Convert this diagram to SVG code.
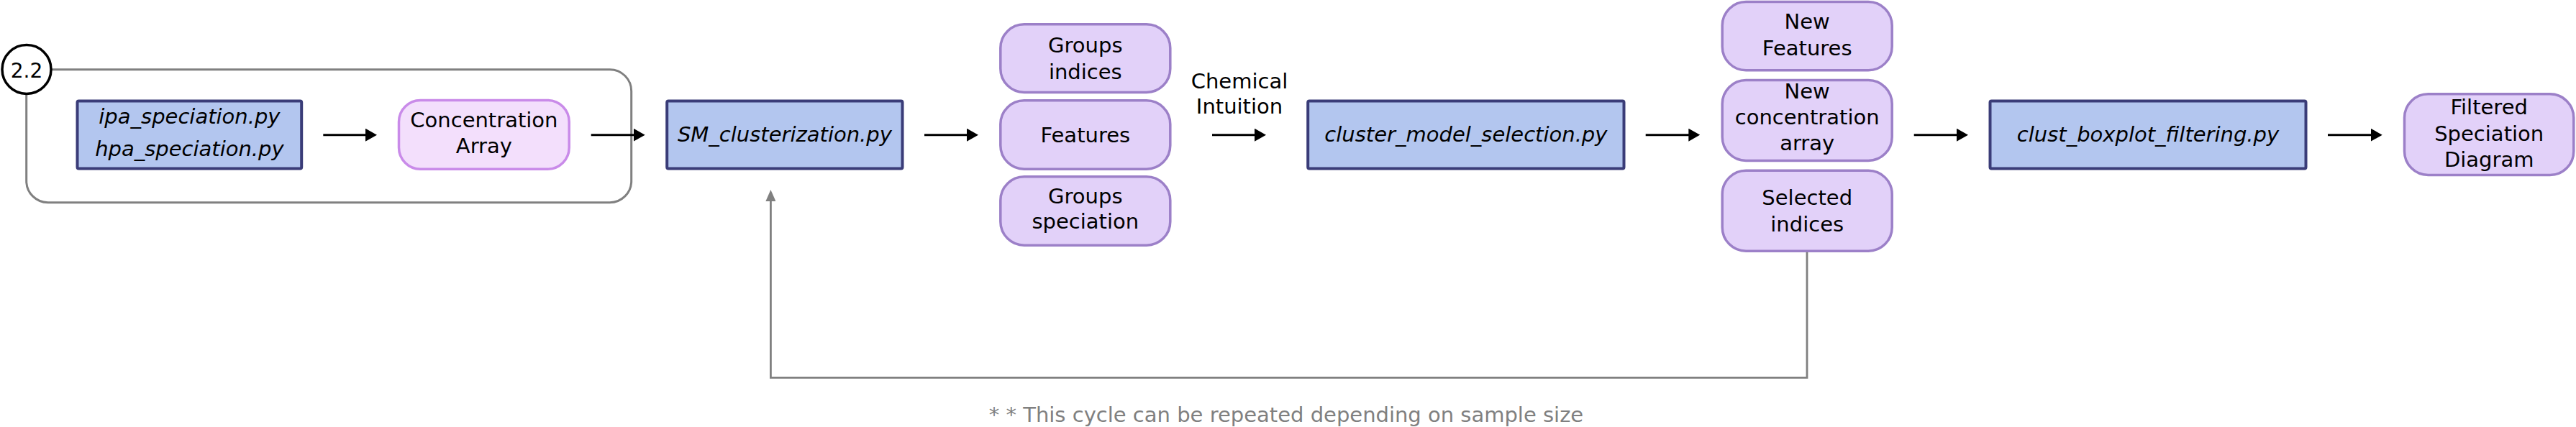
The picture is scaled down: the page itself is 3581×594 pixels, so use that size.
<svg xmlns="http://www.w3.org/2000/svg" width="3581" height="594" viewBox="0 0 3581 594">
<style>
text{font-family:"DejaVu Sans","Liberation Sans",sans-serif;font-size:29px;fill:#000;text-anchor:middle}
.it{font-style:italic}
.script{fill:#b3c6ef;stroke:#3a3c78;stroke-width:4}
.data{fill:#e2d1f9;stroke:#9c80c8;stroke-width:3.5}
.conc{fill:#f3dffc;stroke:#c98be9;stroke-width:3.5}
.flow{stroke:#000;stroke-width:3;fill:none}
.loop{stroke:#808080;stroke-width:2.8;fill:none}
.note{fill:#808080}
</style>
<defs>
<marker id="ah" markerUnits="userSpaceOnUse" markerWidth="16" markerHeight="18" refX="2" refY="9" orient="auto">
<path d="M0,0 L16,9 L0,18 z" fill="#000"/>
</marker>
<marker id="ahg" markerUnits="userSpaceOnUse" markerWidth="16" markerHeight="14" refX="2" refY="7" orient="auto">
<path d="M0,0 L16,7 L0,14 z" fill="#808080"/>
</marker>
</defs>

<g id="group-2-2">
<rect x="36.7" y="96.7" width="841" height="185" rx="30" fill="none" stroke="#808080" stroke-width="3"/>
<circle cx="37" cy="96.5" r="34" fill="#fff" stroke="#000" stroke-width="3.5"/>
<text x="37" y="107.5" style="font-size:28px">2.2</text>
</g>

<g id="node-speciation">
<rect class="script" x="107.5" y="140.5" width="311.7" height="94" rx="2"/>
<text class="it" x="263.4" y="172">ipa_speciation.py</text>
<text class="it" x="263.4" y="217">hpa_speciation.py</text>
</g>

<g id="node-concentration">
<rect class="conc" x="554.5" y="139.5" width="236.7" height="95.7" rx="30"/>
<text x="672.9" y="176.7">Concentration</text>
<text x="672.9" y="213">Array</text>
</g>

<g id="node-sm">
<rect class="script" x="927.2" y="140.5" width="327.3" height="94" rx="2"/>
<text class="it" x="1090.9" y="196.5">SM_clusterization.py</text>
</g>

<g id="node-groups-indices">
<rect class="data" x="1390.8" y="33.8" width="236" height="94.7" rx="33"/>
<text x="1508.8" y="73.3">Groups</text>
<text x="1508.8" y="110">indices</text>
</g>

<g id="node-features">
<rect class="data" x="1390.8" y="139.8" width="236" height="95.4" rx="33"/>
<text x="1508.8" y="197.7">Features</text>
</g>

<g id="node-groups-speciation">
<rect class="data" x="1390.8" y="245.8" width="236" height="95.4" rx="33"/>
<text x="1508.8" y="283.3">Groups</text>
<text x="1508.8" y="318.3">speciation</text>
</g>

<g id="label-chemical">
<text x="1723" y="123.3">Chemical</text>
<text x="1723" y="158.3">Intuition</text>
</g>

<g id="node-cluster-model">
<rect class="script" x="1818.2" y="140.5" width="439.3" height="94" rx="2"/>
<text class="it" x="2037.9" y="196.7">cluster_model_selection.py</text>
</g>

<g id="node-new-features">
<rect class="data" x="2394.2" y="2.5" width="236" height="95.3" rx="33"/>
<text x="2512.2" y="40">New</text>
<text x="2512.2" y="76.7">Features</text>
</g>

<g id="node-new-conc">
<rect class="data" x="2394.2" y="111.5" width="236" height="112" rx="33"/>
<text x="2512.2" y="136.7">New</text>
<text x="2512.2" y="172.7">concentration</text>
<text x="2512.2" y="208.5">array</text>
</g>

<g id="node-selected">
<rect class="data" x="2394.2" y="237.2" width="236" height="112" rx="33"/>
<text x="2512.2" y="285">Selected</text>
<text x="2512.2" y="321.7">indices</text>
</g>

<g id="node-boxplot">
<rect class="script" x="2766.5" y="140.5" width="439" height="94" rx="2"/>
<text class="it" x="2986" y="196.7">clust_boxplot_filtering.py</text>
</g>

<g id="node-filtered">
<rect class="data" x="3342.5" y="130.8" width="235.3" height="112.7" rx="33"/>
<text x="3460.2" y="159.3">Filtered</text>
<text x="3460.2" y="196">Speciation</text>
<text x="3460.2" y="231.7">Diagram</text>
</g>

<g id="connectors">
<line class="flow" x1="449.3" y1="187.7" x2="510" y2="187.7" marker-end="url(#ah)"/>
<line class="flow" x1="821.7" y1="187.7" x2="882.7" y2="187.7" marker-end="url(#ah)"/>
<line class="flow" x1="1285" y1="187.7" x2="1346" y2="187.7" marker-end="url(#ah)"/>
<line class="flow" x1="1685" y1="187.7" x2="1746" y2="187.7" marker-end="url(#ah)"/>
<line class="flow" x1="2287.7" y1="187.7" x2="2349.3" y2="187.7" marker-end="url(#ah)"/>
<line class="flow" x1="2660.7" y1="187.7" x2="2722" y2="187.7" marker-end="url(#ah)"/>
<line class="flow" x1="3236" y1="187.7" x2="3297.7" y2="187.7" marker-end="url(#ah)"/>
<path class="loop" d="M2512,350.7 L2512,525.3 L1071.4,525.3 L1071.4,278" marker-end="url(#ahg)"/>
</g>

<text class="note" x="1788" y="587">* * This cycle can be repeated depending on sample size</text>
</svg>
